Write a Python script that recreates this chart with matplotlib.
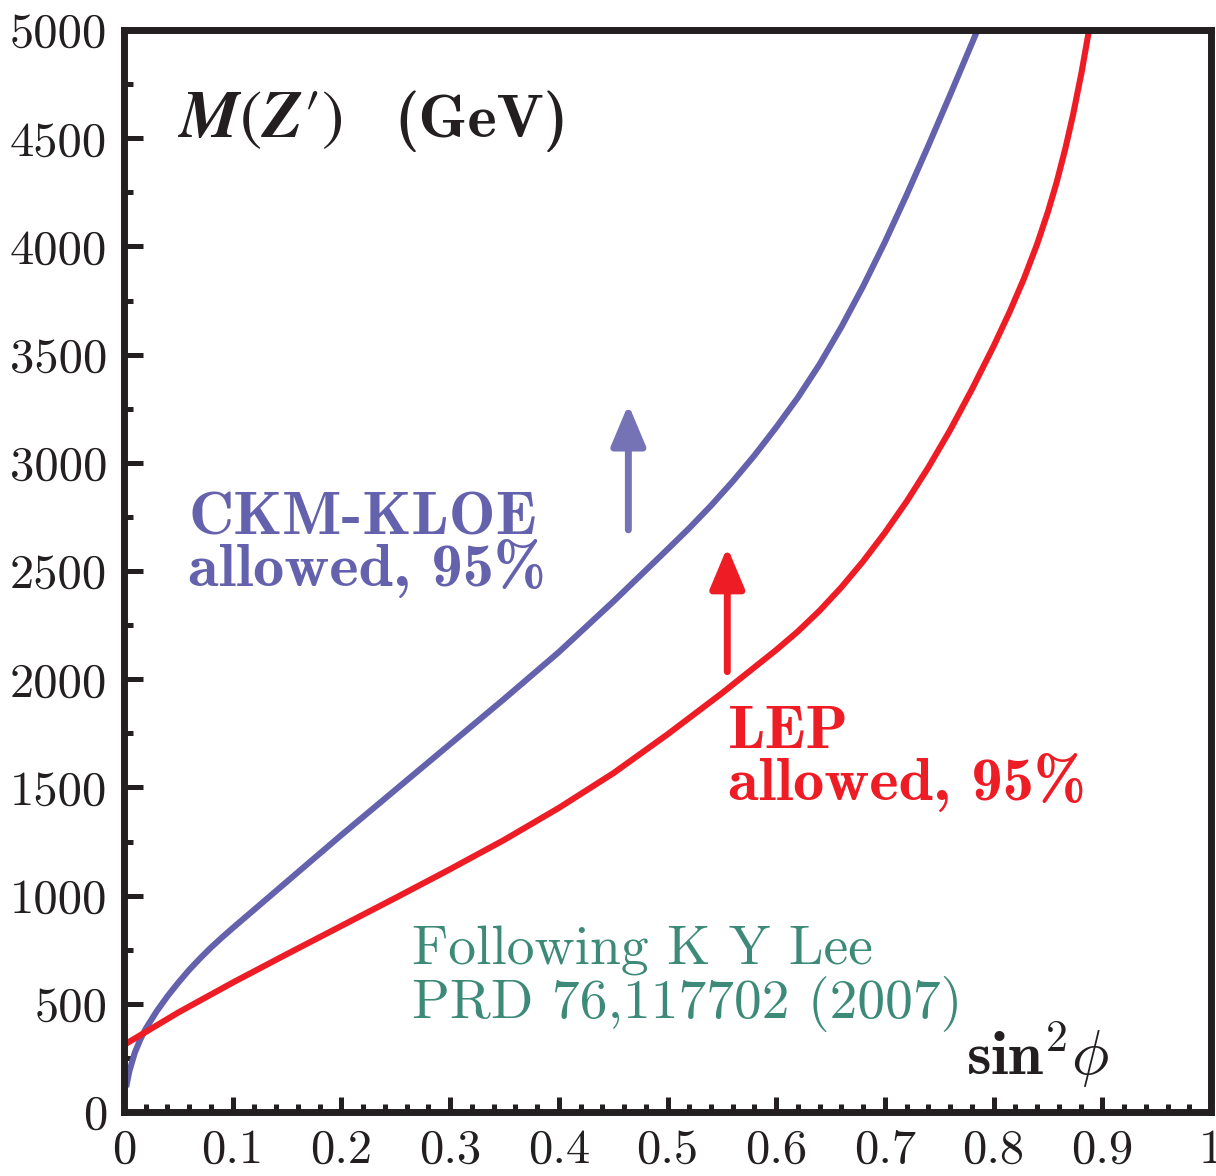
import numpy as np
import matplotlib.pyplot as plt
from matplotlib.ticker import MultipleLocator

plt.rcParams['mathtext.fontset'] = 'cm'
plt.rcParams['axes.unicode_minus'] = False

# CKM-KLOE lower bound on M(Z') vs sin^2 phi
ckm_x = [0.002, 0.005, 0.010, 0.015, 0.020, 0.030, 0.040, 0.050, 0.060, 0.070,
         0.080, 0.090, 0.100, 0.150, 0.200, 0.250, 0.300, 0.350, 0.400, 0.450,
         0.500, 0.520, 0.540, 0.560, 0.580, 0.600, 0.620, 0.640, 0.660, 0.680,
         0.700, 0.720, 0.740, 0.760, 0.780, 0.7852]
ckm_m = [115, 190, 275, 335, 385, 465, 535, 598, 657, 710,
         760, 806, 850, 1065, 1280, 1490, 1700, 1910, 2125, 2358,
         2600, 2698, 2802, 2914, 3034, 3164, 3302, 3456, 3628, 3816,
         4020, 4238, 4466, 4700, 4938, 5000]

# LEP lower bound
lep_x = [0.000, 0.050, 0.100, 0.150, 0.200, 0.250, 0.300, 0.350, 0.400, 0.450,
         0.500, 0.550, 0.600, 0.620, 0.640, 0.660, 0.680, 0.700, 0.720, 0.740,
         0.760, 0.780, 0.800, 0.815, 0.828, 0.840, 0.850, 0.858, 0.866, 0.873,
         0.881, 0.8878]
lep_m = [310, 460, 598, 730, 860, 990, 1122, 1258, 1405, 1565,
         1745, 1935, 2135, 2221, 2317, 2425, 2545, 2677, 2821, 2979,
         3151, 3339, 3539, 3700, 3852, 4010, 4160, 4296, 4452, 4606,
         4806, 5000]

# arrows pointing into the allowed regions: x, tail, head
ckm_arrow = (0.464, 2690, 3270)
lep_arrow = (0.555, 2035, 2610)

blue = '#6462ad'
blue_arrow = '#7572b5'
red = '#ee1d25'
teal = '#3d8a78'
ink = '#231f20'

fig = plt.figure(figsize=(12.16, 11.76), dpi=100)
ax = fig.add_axes([124 / 1216, 64 / 1176, 1087 / 1216, 1082 / 1176])

ax.plot(ckm_x, ckm_m, color=blue, lw=4.4, solid_capstyle='butt')
ax.plot(lep_x, lep_m, color=red, lw=4.4, solid_capstyle='butt')

for (x, y0, y1), c in [(ckm_arrow, blue_arrow), (lep_arrow, red)]:
    ax.annotate('', xy=(x, y1), xytext=(x, y0),
                arrowprops=dict(arrowstyle='-|>,head_length=2.5,head_width=1.05',
                                color=c, lw=5, shrinkA=0, shrinkB=0))

ax.set_xlim(0, 1)
ax.set_ylim(0, 5000)

ax.xaxis.set_major_locator(MultipleLocator(0.1))
ax.xaxis.set_minor_locator(MultipleLocator(0.02))
ax.yaxis.set_major_locator(MultipleLocator(500))
ax.yaxis.set_minor_locator(MultipleLocator(250))
ax.xaxis.set_major_formatter(lambda v, p: '0' if v == 0 else ('1' if v == 1 else f'{v:.1f}'))

ax.tick_params(which='both', direction='in', top=False, right=False,
               color=ink, labelcolor=ink, labelsize=35, width=3.6)
ax.tick_params(axis='y', which='major', length=13.5, pad=12)
ax.tick_params(axis='y', which='minor', length=6.5)
ax.tick_params(axis='x', which='major', length=11, pad=12)
ax.tick_params(axis='x', which='minor', length=5.5)
for lab in ax.get_xticklabels() + ax.get_yticklabels():
    lab.set_fontfamily('cmr10')

for s in ax.spines.values():
    s.set_linewidth(5)
    s.set_color(ink)

# labels inside the frame (multi-line texts are placed by their last baseline)
ax.text(0.050, 0.901, r'$\mathbfit{M}(\mathbfit{Z}\prime)$', transform=ax.transAxes,
        fontsize=48, color=ink, math_fontfamily='stix', va='baseline')
ax.text(0.249, 0.901, '(GeV)', transform=ax.transAxes, fontsize=45,
        color=ink, family='cmb10', va='baseline')
ax.text(0.775, 0.034, r'$\mathbf{sin}^{\mathbf{2}}\phi$', transform=ax.transAxes,
        fontsize=45, color=ink, va='baseline')

ax.text(0.059, 0.486, 'CKM-KLOE\nallowed, 95%', transform=ax.transAxes,
        fontsize=45, color=blue, family='cmb10', va='baseline', linespacing=0.85)
ax.text(0.556, 0.288, 'LEP\nallowed, 95%', transform=ax.transAxes,
        fontsize=45, color=red, family='cmb10', va='baseline', linespacing=0.85)

ax.text(0.265, 0.0869, 'Following K Y Lee\nPRD 76,117702 (2007)', transform=ax.transAxes,
        fontsize=40, color=teal, family='cmr10', va='baseline', linespacing=1.0)

plt.savefig('out.png', dpi=100)
